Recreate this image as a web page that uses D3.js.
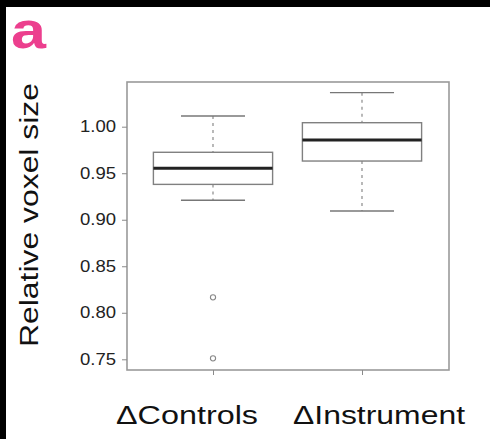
<!DOCTYPE html>
<html><head><meta charset="utf-8">
<script src="https://cdn.jsdelivr.net/npm/d3@7"></script>
<style>html,body{margin:0;padding:0;background:#fff;}svg{display:block;}</style>
</head><body>
<svg id="c" width="490" height="439"></svg>
<script>
const categories = ["ΔControls", "ΔInstrument"];
const whiskerHigh = [1.0115, 1.0366];
const q3 = [0.9725, 1.0043];
const median = [0.9553, 0.9857];
const q1 = [0.938, 0.9631];
const whiskerLow = [0.921, 0.9094];
const outliers = [[0.8166, 0.751], []];
const yTicks = [0.75, 0.80, 0.85, 0.90, 0.95, 1.00];

const svg = d3.select("#c");
svg.append("rect").attr("width",490).attr("height",439).attr("fill","#fff");
svg.append("rect").attr("x",0).attr("y",0).attr("width",490).attr("height",7).attr("fill","#000");
svg.append("rect").attr("x",0).attr("y",0).attr("width",6).attr("height",439).attr("fill","#000");

const frame = {left:127, right:449, top:82, bottom:370};
const y = d3.scaleLinear().domain([0.75, 1.00]).range([359.3, 126.7]);
const x = d3.scaleLinear().domain([0.5, 2.5]).range([138.5, 436.5]);
const step = x(2) - x(1);
const boxW = 0.8 * step;
const capW = 0.43 * step;
const gray = "#8a8a8a";

// frame
svg.append("rect").attr("x",frame.left).attr("y",frame.top)
  .attr("width",frame.right-frame.left).attr("height",frame.bottom-frame.top)
  .attr("fill","none").attr("stroke","#9a9a9a").attr("stroke-width",1.6);

// y axis
const yAxis = d3.axisLeft(y).tickValues(yTicks).tickFormat(d3.format(".2f")).tickSize(5).tickPadding(6);
const ga = svg.append("g").attr("transform",`translate(${frame.left},0)`).call(yAxis);
ga.select(".domain").remove();
ga.selectAll(".tick line").attr("stroke",gray).attr("stroke-width",1);
ga.selectAll(".tick text").attr("font-family","Liberation Sans, Arial, sans-serif")
  .attr("font-size",16).attr("fill","#222")
  .attr("textLength",36).attr("lengthAdjust","spacingAndGlyphs");

// x ticks
const xAxis = d3.axisBottom(x).tickValues([1,2]).tickSize(5).tickFormat("");
const gx = svg.append("g").attr("transform",`translate(0,${frame.bottom})`).call(xAxis);
gx.select(".domain").remove();
gx.selectAll(".tick line").attr("stroke",gray);

// boxes
categories.forEach((c,i)=>{
  const cx = x(i+1);
  const g = svg.append("g");
  g.append("line").attr("x1",cx).attr("x2",cx).attr("y1",y(whiskerHigh[i])).attr("y2",y(q3[i]))
    .attr("stroke",gray).attr("stroke-width",1.2).attr("stroke-dasharray","3,4");
  g.append("line").attr("x1",cx).attr("x2",cx).attr("y1",y(q1[i])).attr("y2",y(whiskerLow[i]))
    .attr("stroke",gray).attr("stroke-width",1.2).attr("stroke-dasharray","3,4");
  [whiskerHigh[i], whiskerLow[i]].forEach(v=>{
    g.append("line").attr("x1",cx-capW/2).attr("x2",cx+capW/2).attr("y1",y(v)).attr("y2",y(v))
      .attr("stroke","#777").attr("stroke-width",1.4);
  });
  g.append("rect").attr("x",cx-boxW/2).attr("width",boxW)
    .attr("y",y(q3[i])).attr("height",y(q1[i])-y(q3[i]))
    .attr("fill","#fff").attr("stroke","#808080").attr("stroke-width",1.4);
  g.append("line").attr("x1",cx-boxW/2).attr("x2",cx+boxW/2).attr("y1",y(median[i])).attr("y2",y(median[i]))
    .attr("stroke","#222").attr("stroke-width",3);
  outliers[i].forEach(v=>{
    g.append("circle").attr("cx",cx).attr("cy",y(v)).attr("r",2.6)
      .attr("fill","none").attr("stroke","#888").attr("stroke-width",1.1);
  });
});

// category labels
const labelX = [187, 379];
const labelLen = [142, 172];
categories.forEach((c,i)=>{
  svg.append("text").attr("x",labelX[i]).attr("y",424).attr("text-anchor","middle")
    .attr("font-family","Liberation Sans, Arial, sans-serif").attr("font-size",25).attr("fill","#111")
    .attr("textLength",labelLen[i]).attr("lengthAdjust","spacingAndGlyphs").text(c);
});

// y label
svg.append("text").attr("transform","translate(38,215) rotate(-90)").attr("text-anchor","middle")
  .attr("font-family","Liberation Sans, Arial, sans-serif").attr("font-size",26).attr("fill","#111")
  .attr("textLength",264).attr("lengthAdjust","spacingAndGlyphs").text("Relative voxel size");

// panel letter
svg.append("text").attr("x",11).attr("y",48)
  .attr("font-family","Liberation Sans, Arial, sans-serif").attr("font-weight","bold").attr("font-size",52)
  .attr("fill","#ec3f8e").attr("textLength",35).attr("lengthAdjust","spacingAndGlyphs").text("a");
</script>
</body></html>
